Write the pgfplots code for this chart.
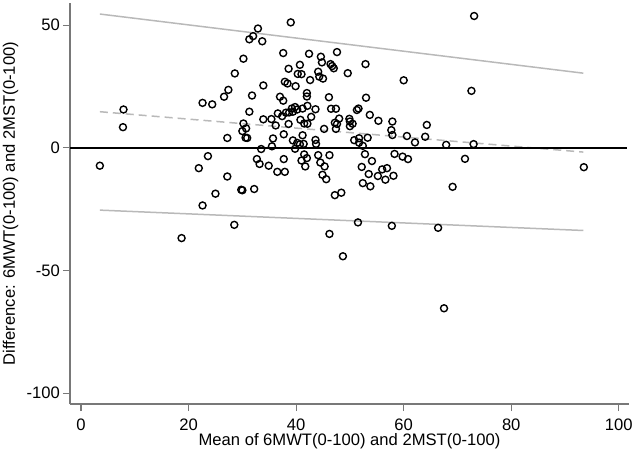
\documentclass[border=0pt]{standalone}
\usepackage{pgfplots}
\pgfplotsset{compat=1.18}
\usepackage{fontspec}
\setmainfont{Liberation Sans}

\definecolor{axisgray}{RGB}{120,120,120}
\definecolor{limgray}{RGB}{185,185,185}

\pgfplotstableread{
x y
3.5 -7.3
7.9 15.6
7.8 8.4
18.7 -36.8
21.9 -8.3
23.6 -3.4
22.6 18.3
24.4 17.7
22.6 -23.5
25.0 -18.7
27.2 -11.7
27.2 4.0
26.6 20.8
27.4 23.6
28.6 30.3
28.5 -31.4
30.2 36.3
29.8 -17.1
30.0 -17.3
32.2 -16.8
31.3 44.2
32.0 45.5
32.9 48.6
33.7 43.4
31.8 21.3
33.9 25.4
31.3 14.7
30.2 9.9
30.7 7.9
30.0 6.8
30.6 4.1
30.9 4.0
32.7 -4.6
33.2 -6.6
33.5 -0.5
33.9 11.6
34.9 -7.3
35.5 0.6
35.7 3.8
35.4 11.7
36.2 9.1
36.5 -9.8
37.9 -9.8
37.7 -4.6
37.7 5.5
36.6 14.0
37.4 12.9
38.1 14.3
38.7 14.4
39.4 14.7
38.6 9.7
37.0 20.8
37.6 19.2
37.9 26.9
38.4 26.2
37.6 38.6
39.0 51.1
38.6 32.2
39.9 25.1
40.7 33.8
40.3 30.1
41.0 30.0
42.4 38.3
42.6 27.6
42.0 22.3
42.0 20.9
39.8 16.6
40.2 15.6
39.2 16.0
41.2 16.0
42.1 17.1
42.8 12.6
43.6 15.7
40.8 11.4
41.5 9.9
42.1 9.8
41.2 5.1
39.4 3.0
40.2 2.0
40.7 1.4
41.4 1.6
39.8 -0.4
41.5 -2.7
42.0 -4.2
41.0 -5.2
41.7 -7.6
43.6 3.2
43.7 1.6
44.1 -3.0
44.5 -6.0
46.2 -3.0
45.3 -7.6
44.9 -11.0
45.6 -12.8
47.2 -19.3
48.4 -18.3
44.6 37.1
44.8 34.8
44.1 31.0
44.3 29.0
45.0 28.2
47.6 39.0
46.4 34.1
46.7 33.3
47.0 32.4
49.6 30.4
52.9 34.1
60.0 27.5
73.1 53.7
72.6 23.2
46.1 20.6
46.5 15.9
47.4 15.9
53.0 20.4
51.3 15.4
51.6 16.0
53.7 13.4
55.3 11.0
57.9 10.7
57.7 7.2
57.9 5.2
60.6 4.8
62.1 2.2
64.3 9.3
64.0 4.5
67.9 1.2
73.0 1.5
48.0 11.9
47.2 10.2
47.6 9.7
47.4 7.7
45.2 7.7
49.9 11.8
50.0 10.7
50.5 9.8
50.0 8.8
50.8 3.1
51.7 3.9
51.7 2.1
52.4 0.8
53.3 4.1
52.8 -2.6
54.1 -5.4
52.2 -7.8
53.5 -10.7
52.4 -14.4
53.8 -15.7
55.2 -11.5
56.0 -8.8
56.9 -8.3
56.6 -13.0
58.1 -11.4
58.3 -2.5
59.8 -3.6
60.8 -4.6
71.4 -4.5
69.1 -15.9
93.5 -7.9
51.5 -30.4
57.8 -31.8
66.4 -32.6
46.2 -35.1
48.7 -44.2
67.5 -65.4
}\ptsdata

\begin{document}
\begin{tikzpicture}
\begin{axis}[
    name=ax, at={(0,0)}, anchor=south west,
    scale only axis,
    width=559bp, height=401bp,
    xmin=-2.05, xmax=101.9,
    ymin=-104.4, ymax=59,
    axis x line=bottom, axis y line=left,
    axis line style={-, axisgray, line width=1.1bp},
    tick style={axisgray, line width=1.1bp},
    tick align=outside,
    major tick length=7bp,
    xtick={0,20,40,60,80,100},
    ytick={-100,-50,0,50},
    /pgf/number format/assume math mode=true,
    every tick label/.append style={font=\fontsize{16.6bp}{19bp}\selectfont},
    xticklabel style={anchor=base, inner sep=0pt, yshift=-19bp},
    yticklabel style={anchor=east, inner sep=0pt, xshift=-3bp},
    xlabel={Mean of 6MWT(0-100) and 2MST(0-100)},
    ylabel={Difference: 6MWT(0-100) and 2MST(0-100)},
    every axis x label/.style={at={(axis description cs:0.5,-0.1047)}, anchor=base, inner sep=0pt, font=\fontsize{16.6bp}{19bp}\selectfont},
    every axis y label/.style={at={(axis description cs:-0.0984,0.5)}, rotate=90, anchor=base, inner sep=0pt, font=\fontsize{16.6bp}{19bp}\selectfont},
]
\addplot[limgray, line width=1.5bp] coordinates {(3.5,54.5) (93.4,30.4)};
\addplot[limgray, line width=1.5bp] coordinates {(3.5,-25.4) (93.4,-33.7)};
\addplot[limgray, line width=1.5bp, dash pattern=on 8bp off 5bp] coordinates {(3.5,14.7) (93.4,-1.75)};
\addplot[black, line width=1.6bp] coordinates {(-2.05,0) (101.5,0)};
\addplot[only marks, mark=o, mark size=3.5bp, mark options={black, line width=1.4bp}] table[x=x, y=y] {\ptsdata};
\end{axis}
\pgfresetboundingbox
\path[use as bounding box] ([xshift=-70bp,yshift=-49bp]ax.south west) rectangle ([xshift=566bp,yshift=404bp]ax.south west);
\end{tikzpicture}
\end{document}
